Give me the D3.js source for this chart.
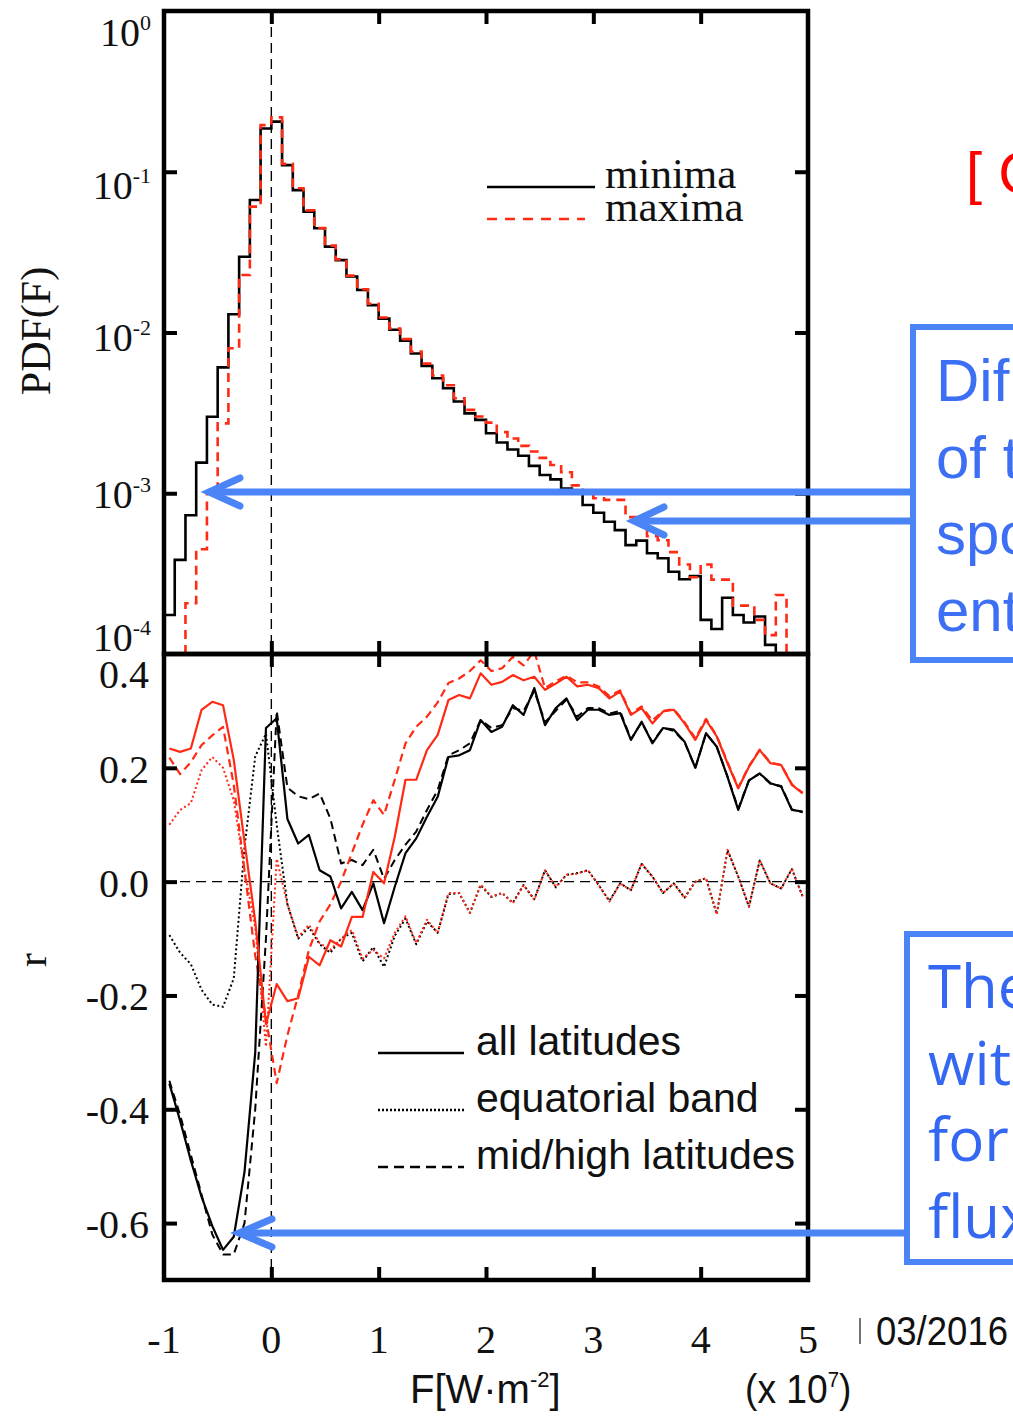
<!DOCTYPE html>
<html>
<head>
<meta charset="utf-8">
<script src="https://cdn.jsdelivr.net/npm/d3@7"></script>
<style>
  body { margin: 0; background: #fff; }
  .serif { font-family: "Liberation Serif", "Times New Roman", serif; fill: #111; }
  .sans { font-family: "Liberation Sans", Arial, sans-serif; fill: #111; }
</style>
</head>
<body>
<svg id="fig" width="1013" height="1416"></svg>
<script>
// ---- data -------------------------------------------------------------
// histogram bin edges of the flux F (units of 1e7 W m^-2)
const binEdges = [-1.0,-0.9,-0.8,-0.7,-0.6,-0.5,-0.4,-0.3,-0.2,-0.1,
  0.0,0.1,0.2,0.3,0.4,0.5,0.6,0.7,0.8,0.9,1.0,1.1,1.2,1.3,1.4,1.5,1.6,1.7,1.8,1.9,
  2.0,2.1,2.2,2.3,2.4,2.5,2.6,2.7,2.8,2.9,3.0,3.1,3.2,3.3,3.4,3.5,3.6,3.7,3.8,3.9,
  4.0,4.1,4.2,4.3,4.4,4.5,4.6,4.7,4.8,4.9,5.0];

// PDF(F) per bin, minima (null = below 1e-4)
const pdfMinima = [1.75e-4,3.85e-4,7.3e-4,1.55e-3,2.99e-3,6.07e-3,1.30e-2,2.96e-2,6.67e-2,0.186,
  0.205,0.110,7.69e-2,5.64e-2,4.45e-2,3.42e-2,2.82e-2,2.23e-2,1.84e-2,1.48e-2,
  1.22e-2,1.04e-2,8.9e-3,7.4e-3,6.2e-3,5.19e-3,4.50e-3,3.72e-3,3.14e-3,2.86e-3,
  2.36e-3,2.07e-3,1.87e-3,1.71e-3,1.48e-3,1.30e-3,1.22e-3,1.07e-3,1.0e-3,8.45e-4,
  7.57e-4,6.65e-4,5.90e-4,4.76e-4,5.07e-4,4.23e-4,3.94e-4,3.25e-4,2.92e-4,3.05e-4,
  1.63e-4,1.43e-4,2.24e-4,1.75e-4,1.57e-4,1.71e-4,1.14e-4,null,null,null];

// PDF(F) per bin, maxima
const pdfMaxima = [null,null,2.07e-4,4.48e-4,1.02e-3,2.72e-3,7.98e-3,2.28e-2,6.07e-2,0.195,
  0.218,0.112,7.9e-2,5.75e-2,4.47e-2,3.47e-2,2.85e-2,2.26e-2,1.86e-2,1.51e-2,
  1.24e-2,1.06e-2,9.1e-3,7.6e-3,6.4e-3,5.4e-3,4.7e-3,3.9e-3,3.3e-3,3.0e-3,
  2.75e-3,2.4e-3,2.19e-3,1.97e-3,1.82e-3,1.66e-3,1.50e-3,1.35e-3,1.12e-3,1.02e-3,
  9.3e-4,9.1e-4,9.1e-4,7.1e-4,6.5e-4,5.4e-4,5.1e-4,4.3e-4,3.6e-4,3.0e-4,
  3.6e-4,2.9e-4,2.9e-4,2.0e-4,2.0e-4,1.63e-4,1.31e-4,2.33e-4,null,null];

// bin centres for the correlation curves
const binCenters = [-0.95,-0.85,-0.75,-0.65,-0.55,-0.45,-0.35,-0.25,-0.15,-0.05,
  0.05,0.15,0.25,0.35,0.45,0.55,0.65,0.75,0.85,0.95,1.05,1.15,1.25,1.35,1.45,1.55,1.65,1.75,1.85,1.95,
  2.05,2.15,2.25,2.35,2.45,2.55,2.65,2.75,2.85,2.95,3.05,3.15,3.25,3.35,3.45,3.55,3.65,3.75,3.85,3.95,
  4.05,4.15,4.25,4.35,4.45,4.55,4.65,4.75,4.85,4.95];

// correlation r, minima
const rAllMinima = [-0.355,-0.42,-0.49,-0.554,-0.605,-0.647,-0.624,-0.51,-0.30,0.27,
  0.287,0.11,0.067,0.082,0.02,0.009,-0.047,-0.018,-0.05,-0.003,
  -0.073,-0.009,0.05,0.076,0.114,0.149,0.219,0.222,0.231,0.284,
  0.263,0.272,0.31,0.293,0.34,0.275,0.305,0.322,0.284,0.302,
  0.302,0.293,0.296,0.249,0.281,0.243,0.27,0.267,0.246,0.2,
  0.261,0.237,0.184,0.126,0.178,0.19,0.173,0.167,0.126,0.123];
const rEquatorMinima = [-0.094,-0.125,-0.145,-0.19,-0.216,-0.22,-0.17,0.06,0.22,0.26,
  0.10,-0.04,-0.1,-0.08,-0.11,-0.125,-0.1,-0.09,-0.14,-0.115,
  -0.15,-0.095,-0.065,-0.11,-0.07,-0.09,-0.022,-0.02,-0.055,-0.006,
  -0.027,-0.02,-0.037,-0.006,-0.031,0.02,-0.01,0.012,0.015,0.02,
  -0.006,-0.034,-0.003,-0.015,0.031,0.009,-0.02,-0.003,-0.028,0.0,
  0.006,-0.057,0.055,0.009,-0.044,0.037,-0.003,-0.012,0.022,-0.026];
const rMidHighMinima = [-0.35,-0.41,-0.48,-0.55,-0.62,-0.655,-0.655,-0.60,-0.40,-0.10,
  0.30,0.165,0.15,0.145,0.155,0.111,0.032,0.038,0.029,0.056,
  0.005,0.038,0.065,0.088,0.126,0.161,0.222,0.231,0.243,0.284,
  0.27,0.275,0.305,0.30,0.335,0.28,0.30,0.32,0.29,0.305,
  0.305,0.295,0.30,0.25,0.28,0.245,0.27,0.265,0.245,0.20,
  0.26,0.237,0.185,0.128,0.178,0.19,0.172,0.168,0.127,0.122];

// correlation r, maxima
const rAllMaxima = [0.234,0.228,0.234,0.302,0.316,0.31,0.214,0.07,-0.07,-0.25,
  -0.18,-0.21,-0.205,-0.132,-0.147,-0.103,-0.114,-0.062,-0.062,0.017,
  -0.003,0.079,0.179,0.179,0.231,0.258,0.319,0.328,0.322,0.366,
  0.346,0.351,0.363,0.354,0.36,0.337,0.348,0.36,0.343,0.346,
  0.34,0.322,0.334,0.293,0.305,0.278,0.299,0.302,0.278,0.249,
  0.284,0.255,0.208,0.164,0.202,0.231,0.208,0.205,0.17,0.155];
const rEquatorMaxima = [0.1,0.126,0.138,0.196,0.219,0.2,0.143,0.02,-0.08,-0.29,
  0.04,-0.04,-0.097,-0.076,-0.108,-0.12,-0.1,-0.085,-0.135,-0.12,
  -0.135,-0.09,-0.061,-0.108,-0.067,-0.09,-0.02,-0.02,-0.055,-0.005,
  -0.026,-0.02,-0.038,-0.006,-0.032,0.02,-0.009,0.012,0.014,0.02,
  -0.006,-0.035,-0.003,-0.015,0.032,0.009,-0.02,-0.003,-0.029,0.0,
  0.006,-0.058,0.056,0.009,-0.044,0.038,-0.003,-0.012,0.023,-0.026];
const rMidHighMaxima = [0.218,0.189,0.21,0.24,0.257,0.272,0.17,0.02,-0.13,-0.24,
  -0.354,-0.27,-0.2,-0.12,-0.07,-0.04,0.0,0.05,0.1,0.143,
  0.117,0.179,0.243,0.272,0.29,0.315,0.349,0.357,0.37,0.389,
  0.37,0.375,0.395,0.38,0.405,0.34,0.352,0.362,0.35,0.35,
  0.343,0.326,0.336,0.295,0.308,0.283,0.3,0.303,0.28,0.252,
  0.286,0.256,0.21,0.165,0.203,0.232,0.209,0.205,0.171,0.156];

// ticks
const fluxTicks = [-1, 0, 1, 2, 3, 4, 5];
const fluxInnerTicks = [0, 1, 2, 3, 4];
const pdfTickExponents = [0, -1, -2, -3, -4];
const rTicks = [0.4, 0.2, 0.0, -0.2, -0.4, -0.6];

// ---- layout ------------------------------------------------------------
const svg = d3.select("#fig");
const L = 164, R = 808, T = 11, M = 654, B = 1280;
const RED = "#ff2a14";
const BLUE = "#4a84f6";

const x = d3.scaleLinear().domain([-1, 5]).range([L, R]);
const yPdf = d3.scaleLog().domain([1e-4, 1]).range([M, T]);
const yR = d3.scaleLinear().domain([-0.7, 0.4]).range([B, M]);

const defs = svg.append("defs");
defs.append("clipPath").attr("id", "clipTop").append("rect")
  .attr("x", L).attr("y", T).attr("width", R - L).attr("height", M - T);
defs.append("clipPath").attr("id", "clipBot").append("rect")
  .attr("x", L).attr("y", M).attr("width", R - L).attr("height", B - M);

// ---- reference lines ----------------------------------------------------
svg.append("line").attr("x1", x(0)).attr("x2", x(0)).attr("y1", T).attr("y2", B)
  .attr("stroke", "#000").attr("stroke-width", 1.4).attr("stroke-dasharray", "10,6");
svg.append("line").attr("x1", L).attr("x2", R).attr("y1", yR(0)).attr("y2", yR(0))
  .attr("stroke", "#000").attr("stroke-width", 1.4).attr("stroke-dasharray", "10,6");

// ---- top panel: step histograms ----------------------------------------
function stepPoints(vals) {
  const idx = vals.map((v, i) => v == null ? -1 : i).filter(i => i >= 0);
  const first = idx[0], last = idx[idx.length - 1];
  const pts = [[binEdges[first], 1e-4]];
  for (let i = first; i <= last; i++) pts.push([binEdges[i], vals[i]]);
  pts.push([binEdges[last + 1], vals[last]]);
  pts.push([binEdges[last + 1], 1e-4]);
  return pts;
}
const stepLine = d3.line().x(d => x(d[0])).y(d => yPdf(d[1])).curve(d3.curveStepAfter);
const gTop = svg.append("g").attr("clip-path", "url(#clipTop)");
gTop.append("path").attr("d", stepLine(stepPoints(pdfMinima)))
  .attr("fill", "none").attr("stroke", "#000").attr("stroke-width", 2.6);
gTop.append("path").attr("d", stepLine(stepPoints(pdfMaxima)))
  .attr("fill", "none").attr("stroke", RED).attr("stroke-width", 2.6)
  .attr("stroke-dasharray", "9,6");

// ---- bottom panel: correlation curves ----------------------------------
const rLine = d3.line().x((d, i) => x(binCenters[i])).y(d => yR(d));
const gBot = svg.append("g").attr("clip-path", "url(#clipBot)");
const curves = [
  { vals: rEquatorMinima, color: "#000", dash: "2,2.6", w: 2 },
  { vals: rEquatorMaxima, color: RED, dash: "2,2.6", w: 2 },
  { vals: rMidHighMinima, color: "#000", dash: "8,5", w: 2 },
  { vals: rMidHighMaxima, color: RED, dash: "8,5", w: 2.2 },
  { vals: rAllMinima, color: "#000", dash: null, w: 2.2 },
  { vals: rAllMaxima, color: RED, dash: null, w: 2.2 }
];
curves.forEach(c => {
  gBot.append("path").attr("d", rLine(c.vals)).attr("fill", "none")
    .attr("stroke", c.color).attr("stroke-width", c.w)
    .attr("stroke-linejoin", "round")
    .attr("stroke-dasharray", c.dash);
});

// ---- frames and inward ticks (d3 axes) ----------------------------------
function styleAxis(g) {
  g.select(".domain").remove();
  g.selectAll(".tick line").attr("stroke", "#000").attr("stroke-width", 4);
  g.selectAll(".tick text").remove();
}
const tk = 13;
svg.append("g").attr("transform", `translate(0,${T})`)
  .call(d3.axisTop(x).tickValues(fluxInnerTicks).tickSize(-tk)).call(styleAxis);
svg.append("g").attr("transform", `translate(0,${M})`)
  .call(d3.axisBottom(x).tickValues(fluxInnerTicks).tickSize(-tk)).call(styleAxis);
svg.append("g").attr("transform", `translate(0,${M})`)
  .call(d3.axisTop(x).tickValues(fluxInnerTicks).tickSize(-tk)).call(styleAxis);
svg.append("g").attr("transform", `translate(0,${B})`)
  .call(d3.axisBottom(x).tickValues(fluxInnerTicks).tickSize(-tk)).call(styleAxis);
const decadeTicks = [1e-1, 1e-2, 1e-3];
svg.append("g").attr("transform", `translate(${L},0)`)
  .call(d3.axisLeft(yPdf).tickValues(decadeTicks).tickSize(-tk)).call(styleAxis);
svg.append("g").attr("transform", `translate(${R},0)`)
  .call(d3.axisRight(yPdf).tickValues(decadeTicks).tickSize(-tk)).call(styleAxis);
const rInner = rTicks.filter(v => v < 0.4);
svg.append("g").attr("transform", `translate(${L},0)`)
  .call(d3.axisLeft(yR).tickValues(rInner).tickSize(-tk)).call(styleAxis);
svg.append("g").attr("transform", `translate(${R},0)`)
  .call(d3.axisRight(yR).tickValues(rInner).tickSize(-tk)).call(styleAxis);

svg.append("rect").attr("x", L).attr("y", T).attr("width", R - L).attr("height", M - T)
  .attr("fill", "none").attr("stroke", "#000").attr("stroke-width", 4.5);
svg.append("rect").attr("x", L).attr("y", M).attr("width", R - L).attr("height", B - M)
  .attr("fill", "none").attr("stroke", "#000").attr("stroke-width", 4.5);

// ---- tick labels -------------------------------------------------------
const pdfLabelShift = [35, 27, 18, 15, -3];
pdfTickExponents.forEach((e, i) => {
  const t = svg.append("text").attr("class", "serif")
    .attr("x", 151).attr("y", yPdf(Math.pow(10, e)) + pdfLabelShift[i])
    .attr("text-anchor", "end").style("font-size", "40px");
  t.append("tspan").text("10");
  t.append("tspan").attr("dy", -16).style("font-size", "22px")
    .text(e === 0 ? "0" : "-" + (-e));
});
rTicks.forEach(v => {
  svg.append("text").attr("class", "serif")
    .attr("x", 149).attr("y", yR(v) + (v === 0.4 ? 34 : 15))
    .attr("text-anchor", "end").style("font-size", "40px")
    .text(v.toFixed(1));
});
fluxTicks.forEach(v => {
  svg.append("text").attr("class", "serif")
    .attr("x", x(v)).attr("y", 1353).attr("text-anchor", "middle")
    .style("font-size", "40px").text(String(v));
});

// axis titles
svg.append("text").attr("class", "serif")
  .attr("transform", "translate(50,331) rotate(-90)").attr("text-anchor", "middle")
  .style("font-size", "42px").text("PDF(F)");
svg.append("text").attr("class", "serif")
  .attr("transform", "translate(46,960) rotate(-90)").attr("text-anchor", "middle")
  .style("font-size", "42px").text("r");

const fx = svg.append("text").attr("class", "sans").attr("x", 410).attr("y", 1403)
  .style("font-size", "40px");
fx.append("tspan").text("F[W·m");
fx.append("tspan").attr("dy", -16).style("font-size", "22px").text("-2");
fx.append("tspan").attr("dy", 16).text("]");

const sc = svg.append("text").attr("class", "sans")
  .attr("transform", "translate(745,1403) scale(0.93,1)").style("font-size", "40px");
sc.append("tspan").text("(x 10");
sc.append("tspan").attr("dy", -16).style("font-size", "22px").text("7");
sc.append("tspan").attr("dy", 16).text(")");

// ---- legends -----------------------------------------------------------
svg.append("line").attr("x1", 487).attr("x2", 595).attr("y1", 187).attr("y2", 187)
  .attr("stroke", "#000").attr("stroke-width", 2.6);
svg.append("line").attr("x1", 487).attr("x2", 585).attr("y1", 219).attr("y2", 219)
  .attr("stroke", RED).attr("stroke-width", 2.6).attr("stroke-dasharray", "10,8");
svg.append("text").attr("class", "serif").attr("x", 605).attr("y", 188)
  .style("font-size", "43px").text("minima");
svg.append("text").attr("class", "serif").attr("x", 605).attr("y", 221)
  .style("font-size", "43px").text("maxima");

const legendRows = [
  { label: "all latitudes", dash: null, y: 1053 },
  { label: "equatorial band", dash: "2,2", y: 1110 },
  { label: "mid/high latitudes", dash: "10,6", y: 1167 }
];
legendRows.forEach(r => {
  svg.append("line").attr("x1", 378).attr("x2", 464).attr("y1", r.y).attr("y2", r.y)
    .attr("stroke", "#000").attr("stroke-width", 2.4).attr("stroke-dasharray", r.dash);
  svg.append("text").attr("class", "sans").attr("x", 476).attr("y", r.y + 2)
    .style("font-size", "41px").text(r.label);
});

// ---- slide annotations ---------------------------------------------------
svg.append("text").attr("x", 966).attr("y", 193)
  .style("font-family", "Liberation Sans, Arial, sans-serif").style("font-size", "58px")
  .attr("fill", "#ff0000").text("[ C");

svg.append("rect").attr("x", 913).attr("y", 327).attr("width", 200).attr("height", 333)
  .attr("fill", "none").attr("stroke", BLUE).attr("stroke-width", 6);
["Dif", "of t", "spo", "ent"].forEach((s, i) => {
  svg.append("text").attr("x", 936).attr("y", 401 + i * 76.5)
    .style("font-family", "Liberation Sans, Arial, sans-serif").style("font-size", "60px")
    .attr("fill", "#3d6ff4").text(s);
});
svg.append("rect").attr("x", 907).attr("y", 934).attr("width", 200).attr("height", 328)
  .attr("fill", "none").attr("stroke", BLUE).attr("stroke-width", 6);
["The", "with", "for", "flux"].forEach((s, i) => {
  svg.append("text").attr("x", 928).attr("y", 1008 + i * 76.5)
    .style("font-family", "Open Sans, sans-serif").style("font-size", "60px")
    .attr("fill", "#3568f2").text(s);
});

// arrows from the boxes to the curves
function arrow(x0, y0, x1, dx, dy) {
  const g = svg.append("g").attr("stroke", BLUE).attr("stroke-width", 7)
    .attr("stroke-linecap", "round").attr("fill", "none");
  g.append("line").attr("x1", x0).attr("y1", y0).attr("x2", x1 + 3).attr("y2", y0)
    .attr("stroke-linecap", "butt");
  g.append("polyline").attr("points", `${x1 + dx},${y0 - dy} ${x1},${y0} ${x1 + dx},${y0 + dy}`)
    .attr("stroke-linejoin", "miter");
}
arrow(913, 492, 209, 31, 14);
arrow(913, 521, 634, 30, 14);
arrow(907, 1233, 239, 33, 14);

// footer date
svg.append("line").attr("x1", 860).attr("x2", 860).attr("y1", 1318).attr("y2", 1344)
  .attr("stroke", "#444").attr("stroke-width", 1.5);
svg.append("text").attr("class", "sans").attr("x", 876).attr("y", 1345)
  .attr("textLength", 132).attr("lengthAdjust", "spacingAndGlyphs")
  .style("font-size", "40px").text("03/2016");
</script>
</body>
</html>
